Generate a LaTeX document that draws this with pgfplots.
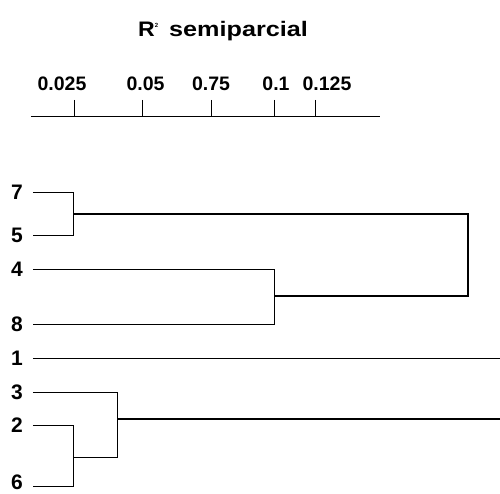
\documentclass[border=0pt]{standalone}
\usepackage{pgfplots}
\pgfplotsset{compat=1.18}
\usepackage{fontspec}
\setmainfont{Liberation Sans}
\begin{document}
\begin{tikzpicture}
\begin{axis}[
  scale only axis, width=349pt, height=377pt,
  xmin=31, xmax=380, ymin=0, ymax=377,
  clip=false,
  axis x line=top, axis y line=none,
  axis line style={-, line width=1pt, black},
  xtick={74,142,211,274,315}, xticklabels={},
  xtick align=outside, major tick length=17pt,
  tick style={black, line width=1pt},
  cycle list={{black, solid, line width=1.4pt, mark=none}},
]
% leaves (7,5)
\addplot coordinates {(33,302) (73,302) (73,259) (33,259)};
% leaves (4,8)
\addplot coordinates {(33,225) (274,225) (274,170) (33,170)};
% join (7,5) with (4,8)
\addplot coordinates {(73,280) (468,280) (468,198) (274,198)};
% leaf 1
\addplot coordinates {(33,136) (500,136)};
% leaves (2,6)
\addplot coordinates {(33,69) (73,69) (73,8) (33,8)};
% join 3 with (2,6)
\addplot coordinates {(33,102) (117,102) (117,37) (73,37)};
\addplot coordinates {(117,75) (500,75)};
% tick labels
\begin{scope}[every node/.style={font=\fontsize{19.5}{20}\selectfont\bfseries, anchor=base, inner sep=0pt}]
\node at (axis cs:62,403) {0.025};
\node at (axis cs:145.5,403) {0.05};
\node at (axis cs:211,403) {0.75};
\node at (axis cs:276,403) {0.1};
\node at (axis cs:327,403) {0.125};
\end{scope}
% leaf labels
\begin{scope}[every node/.style={font=\fontsize{21}{22}\selectfont\bfseries, anchor=center, inner sep=0pt}]
\node at (axis cs:17,302) {7};
\node at (axis cs:17,259) {5};
\node at (axis cs:17,225) {4};
\node at (axis cs:17,170) {8};
\node at (axis cs:17,136) {1};
\node at (axis cs:17,102) {3};
\node at (axis cs:17,69) {2};
\node at (axis cs:17,12) {6};
\end{scope}
% title
\node[anchor=base west, inner sep=0pt, font=\fontsize{21}{22}\selectfont\bfseries] at (axis cs:138,457)
  {\scalebox{1.1}[1]{R}\raisebox{9pt}{\fontsize{6}{6}\selectfont 2}\hspace{11pt}\scalebox{1.2}[1]{semiparcial}};
\coordinate (BL) at (axis cs:0,0);
\coordinate (TR) at (axis cs:500,494);
\end{axis}
\pgfresetboundingbox
\path (BL) rectangle (TR);
\end{tikzpicture}
\end{document}
